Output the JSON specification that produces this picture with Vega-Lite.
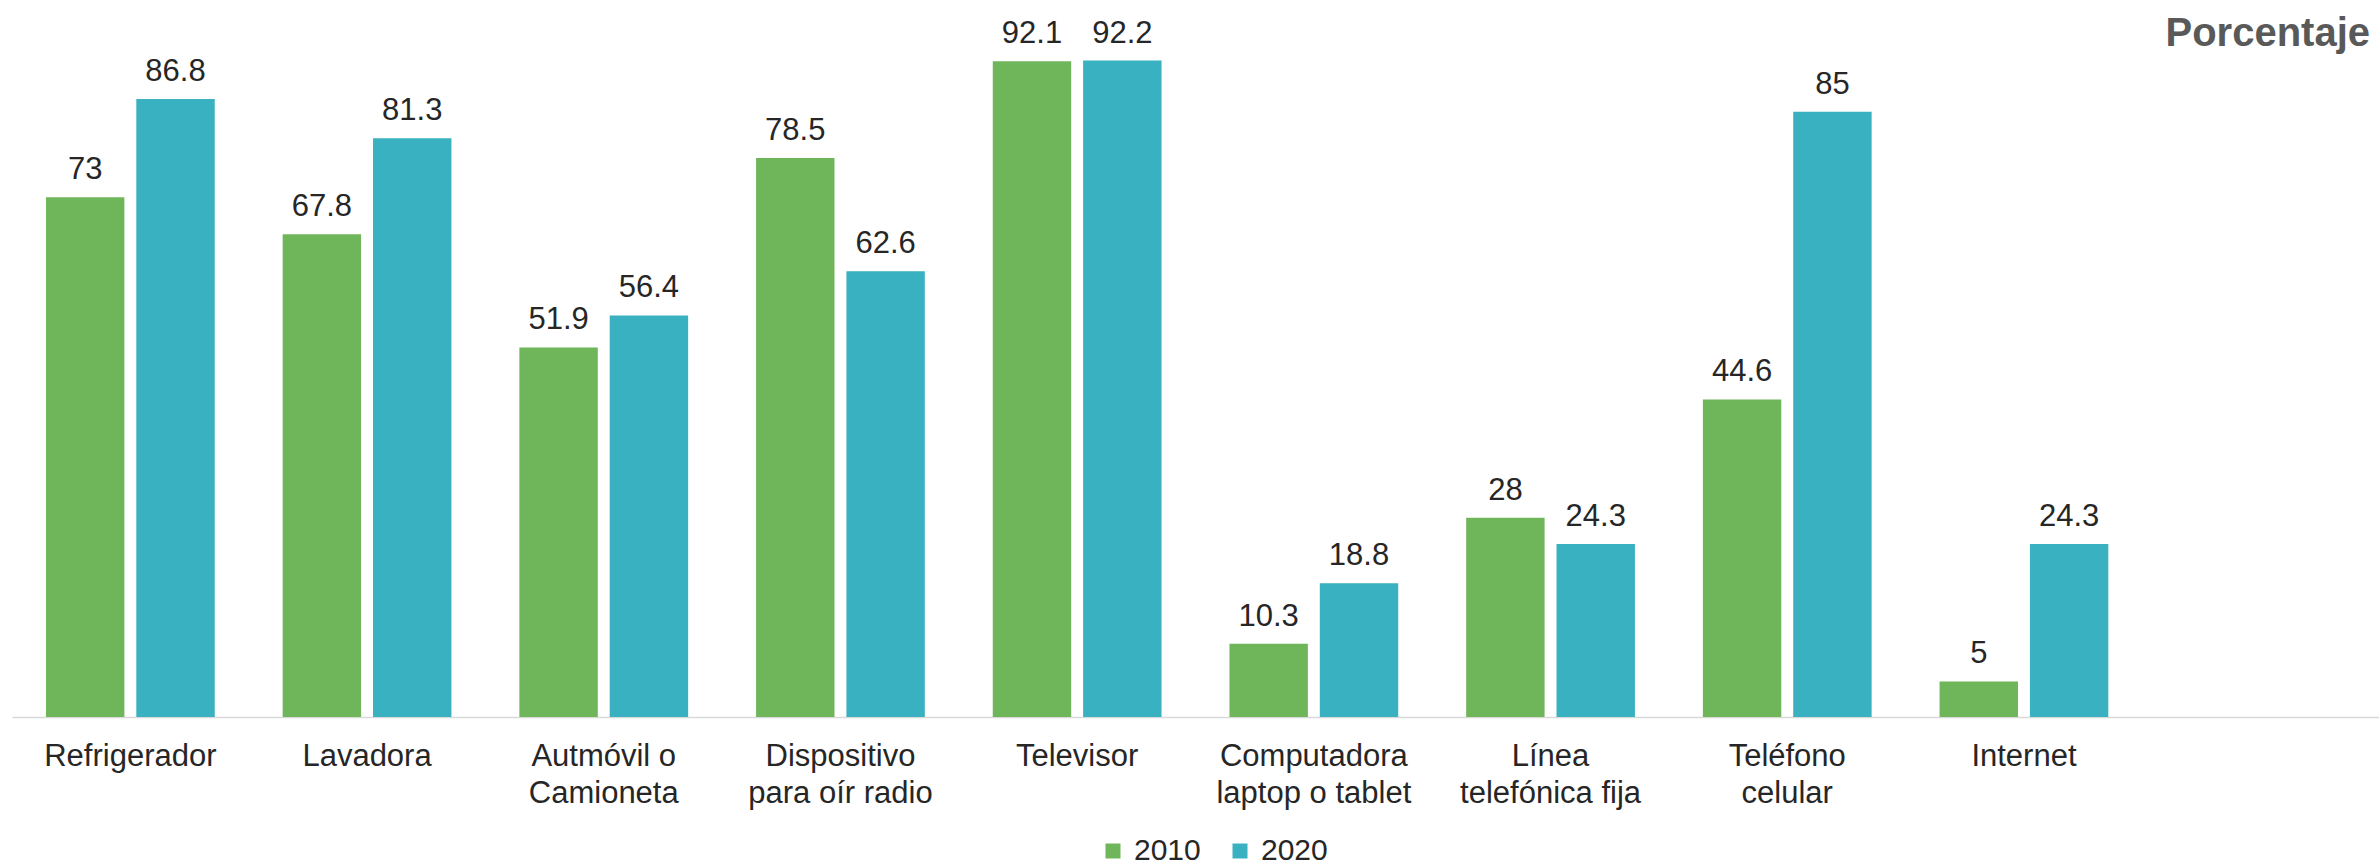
{
  "$schema": "https://vega.github.io/schema/vega-lite/v6.json",
  "width": 2367,
  "height": 712,
  "autosize": {"type": "none"},
  "padding": {"left": 12, "top": 5, "right": 0, "bottom": 148},
  "background": "white",
  "config": {"view": {"stroke": null}, "font": "Liberation Sans"},
  "title": {
    "text": "Porcentaje",
    "anchor": "end",
    "frame": "group",
    "orient": "top",
    "fontSize": 40,
    "fontWeight": "bold",
    "color": "#595959",
    "font": "Liberation Sans",
    "baseline": "alphabetic",
    "offset": -81,
    "dx": -9
  },
  "data": {
    "values": [
      {"categoria": "Refrigerador", "anio": "2010", "valor": 73},
      {"categoria": "Refrigerador", "anio": "2020", "valor": 86.8},
      {"categoria": "Lavadora", "anio": "2010", "valor": 67.8},
      {"categoria": "Lavadora", "anio": "2020", "valor": 81.3},
      {"categoria": "Autmóvil o|Camioneta", "anio": "2010", "valor": 51.9},
      {"categoria": "Autmóvil o|Camioneta", "anio": "2020", "valor": 56.4},
      {"categoria": "Dispositivo|para oír radio", "anio": "2010", "valor": 78.5},
      {"categoria": "Dispositivo|para oír radio", "anio": "2020", "valor": 62.6},
      {"categoria": "Televisor", "anio": "2010", "valor": 92.1},
      {"categoria": "Televisor", "anio": "2020", "valor": 92.2},
      {"categoria": "Computadora|laptop o tablet", "anio": "2010", "valor": 10.3},
      {"categoria": "Computadora|laptop o tablet", "anio": "2020", "valor": 18.8},
      {"categoria": "Línea|telefónica fija", "anio": "2010", "valor": 28},
      {"categoria": "Línea|telefónica fija", "anio": "2020", "valor": 24.3},
      {"categoria": "Teléfono|celular", "anio": "2010", "valor": 44.6},
      {"categoria": "Teléfono|celular", "anio": "2020", "valor": 85},
      {"categoria": "Internet", "anio": "2010", "valor": 5},
      {"categoria": "Internet", "anio": "2020", "valor": 24.3}
    ]
  },
  "encoding": {
    "x": {
      "field": "categoria",
      "type": "nominal",
      "sort": null,
      "scale": {
        "domain": ["Refrigerador", "Lavadora", "Autmóvil o|Camioneta", "Dispositivo|para oír radio", "Televisor", "Computadora|laptop o tablet", "Línea|telefónica fija", "Teléfono|celular", "Internet", " "],
        "paddingInner": 0.287,
        "paddingOuter": 0.1435
      },
      "axis": {
        "title": null,
        "labelAngle": 0,
        "labelExpr": "split(datum.value, '|')",
        "labelFontSize": 31,
        "labelFont": "Liberation Sans",
        "labelColor": "#262626",
        "labelLineHeight": 37,
        "labelPadding": 24,
        "labelLimit": 0,
        "ticks": false,
        "tickSize": 0,
        "domainColor": "#d9d9d9",
        "domainWidth": 1.5,
        "grid": false
      }
    },
    "xOffset": {
      "field": "anio",
      "type": "nominal",
      "scale": {"paddingInner": 0.132, "paddingOuter": 0}
    },
    "y": {
      "field": "valor",
      "type": "quantitative",
      "scale": {"domain": [0, 100]},
      "axis": null
    }
  },
  "layer": [
    {
      "mark": {"type": "bar"},
      "encoding": {
        "color": {
          "field": "anio",
          "type": "nominal",
          "scale": {"domain": ["2010", "2020"], "range": ["#6fb65a", "#39b1c1"]},
          "legend": {
            "orient": "none",
            "direction": "horizontal",
            "legendX": 1086,
            "legendY": 831,
            "title": null,
            "symbolType": "square",
            "symbolSize": 225,
            "symbolStrokeWidth": 0,
            "labelFontSize": 30,
            "labelFont": "Liberation Sans",
            "labelColor": "#262626",
            "labelOffset": 6,
            "columnPadding": 24
          }
        }
      }
    },
    {
      "mark": {
        "type": "text",
        "baseline": "alphabetic",
        "dy": -18,
        "fontSize": 31,
        "font": "Liberation Sans",
        "color": "#262626"
      },
      "encoding": {
        "text": {"field": "valor", "type": "quantitative", "format": ".1~f"}
      }
    }
  ]
}
